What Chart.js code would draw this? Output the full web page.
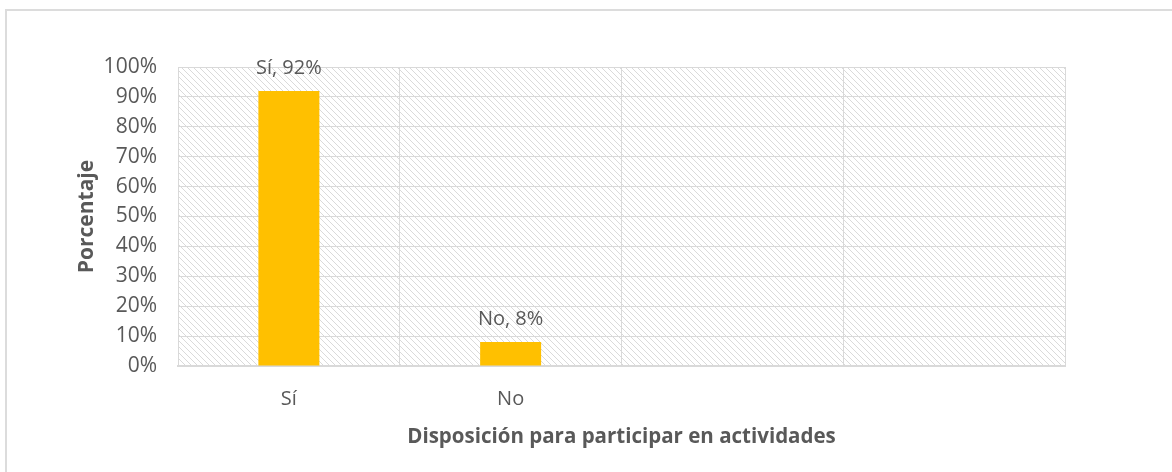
<!DOCTYPE html>
<html>
<head>
<meta charset="utf-8">
<script src="https://cdn.jsdelivr.net/npm/chart.js@4/dist/chart.umd.min.js"></script>
<style>
  html, body { margin: 0; padding: 0; background: #fff; }
  #wrap { position: relative; width: 1172px; height: 472px; overflow: hidden; }
  #frame { position: absolute; left: 5px; top: 9px; width: 1200px; height: 500px;
           border-left: 2px solid #dcdcdc; border-top: 2px solid #dcdcdc; }
  #chart { position: absolute; left: 0; top: 0; }
</style>
</head>
<body>
<div id="wrap">
  <div id="frame"></div>
  <canvas id="chart" width="1172" height="472"></canvas>
</div>
<script>
const categories = ['Sí', 'No', '', ''];
const percentages = [92, 8, null, null];
const yTicks = [0, 10, 20, 30, 40, 50, 60, 70, 80, 90, 100];
const xTitle = 'Disposición para participar en actividades';
const yTitle = 'Porcentaje';

const FONT = "'Open Sans', sans-serif";
const TEXT = '#595959';
const GRID = '#d9d9d9';

function hatch() {
  const c = document.createElement('canvas');
  c.width = 6; c.height = 6;
  const g = c.getContext('2d');
  g.fillStyle = '#fff';
  g.fillRect(0, 0, 6, 6);
  g.strokeStyle = '#dadada';
  g.lineWidth = 1;
  g.beginPath();
  g.moveTo(-1, -1); g.lineTo(7, 7);
  g.moveTo(-1, 5); g.lineTo(1, 7);
  g.moveTo(5, -1); g.lineTo(7, 1);
  g.stroke();
  return g.createPattern(c, 'repeat');
}

// hatched plot background
const areaFill = {
  id: 'areaFill',
  beforeDraw(chart) {
    const { ctx, chartArea: a } = chart;
    ctx.save();
    ctx.fillStyle = hatch();
    ctx.fillRect(a.left, a.top, a.right - a.left, a.bottom - a.top);
    ctx.restore();
  }
};

// "Sí, 92%" labels above the bars
const barLabels = {
  id: 'barLabels',
  afterDatasetsDraw(chart) {
    const ctx = chart.ctx;
    const meta = chart.getDatasetMeta(0);
    ctx.save();
    ctx.font = '20px ' + FONT;
    ctx.fillStyle = TEXT;
    ctx.textAlign = 'center';
    ctx.textBaseline = 'bottom';
    meta.data.forEach((bar, i) => {
      const v = percentages[i];
      if (v == null) return;
      ctx.fillText(categories[i] + ', ' + v + '%', bar.x, bar.y - 13);
    });
    ctx.restore();
  }
};

new Chart(document.getElementById('chart').getContext('2d'), {
  type: 'bar',
  data: {
    labels: categories,
    datasets: [{
      data: percentages,
      backgroundColor: '#ffc000',
      categoryPercentage: 1,
      barPercentage: 0.275
    }]
  },
  options: {
    responsive: false,
    animation: false,
    layout: { padding: { top: 67, right: 107, bottom: 0, left: 0 } },
    plugins: { legend: { display: false }, tooltip: { enabled: false } },
    scales: {
      x: {
        afterFit: s => { s.height = 106; },
        grid: { color: GRID, offset: true, drawTicks: false },
        border: { color: GRID, width: 2 },
        ticks: { color: TEXT, font: { family: FONT, size: 20 }, padding: 21 },
        title: { display: true, text: xTitle, color: TEXT,
                 font: { family: FONT, size: 20.5, weight: 'bold' },
                 padding: { top: 0, bottom: 23 } }
      },
      y: {
        min: 0, max: 100,
        afterFit: s => { s.width = 178; },
        afterBuildTicks: s => { s.ticks = yTicks.map(v => ({ value: v })); },
        grid: { color: GRID, drawTicks: false },
        border: { color: GRID, width: 1 },
        ticks: { color: TEXT, font: { family: FONT, size: 21 }, padding: 21,
                 callback: v => v + '%' },
        title: { display: true, text: yTitle, color: TEXT,
                 font: { family: FONT, size: 21, weight: 'bold' },
                 padding: { top: 74, bottom: 0 } }
      }
    }
  },
  plugins: [areaFill, barLabels]
});
</script>
</body>
</html>
